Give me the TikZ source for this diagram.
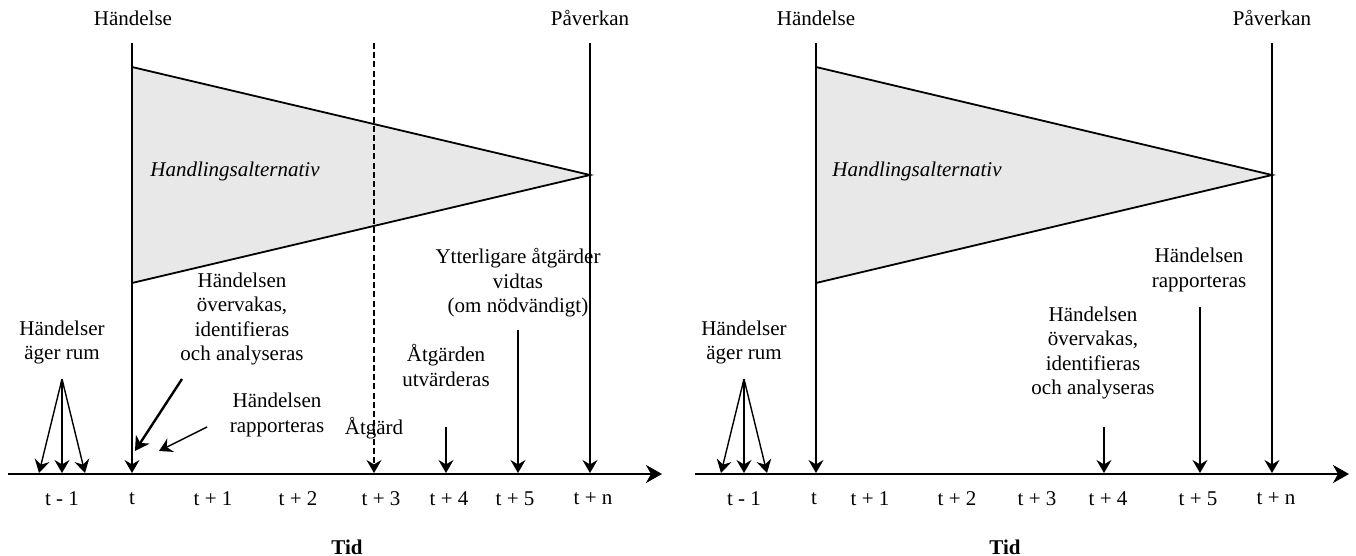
\documentclass[tikz,border=0pt]{standalone}
\usepackage{fontspec}
\setmainfont{Liberation Serif}
\usetikzlibrary{arrows.meta}
\begin{document}
\begin{tikzpicture}[x=0.5pt,y=-0.5pt,
  font=\fontsize{10.5}{12.25}\selectfont,
  lbl/.style={align=center, inner sep=0pt},
  timeaxis/.style={line width=1.1pt, -{Stealth[length=8pt,width=9pt,inset=2.5pt]}},
  mark line/.style={line width=0.6pt, -{Stealth[length=6.5pt,width=7.5pt,inset=2.2pt]}},
  pointer/.style={line width=0.7pt, -{Stealth[length=6.5pt,width=7.5pt,inset=2.2pt]}},
  heavy pointer/.style={line width=1.2pt, -{Stealth[length=7pt,width=8pt,inset=2.2pt]}},
  cone/.style={fill=black!9, draw=black, line width=0.9pt, line join=miter},
  ticklbl/.style={inner sep=0pt},
]
\useasboundingbox (0,0) rectangle (1356,556);

% ---------------- left timeline ----------------
\coordinate (Lax0) at (8,474);
\coordinate (Lax1) at (662,474);
\coordinate (LtTop) at (132,43);
\coordinate (LtBot) at (132,473);
\coordinate (LpTop) at (590,43);
\coordinate (LpBot) at (590,473);
\coordinate (LdTop) at (374,43);
\coordinate (LdBot) at (374,473);
\coordinate (LfanA) at (62,379);
\coordinate (Lf1) at (39,473);
\coordinate (Lf2) at (62,473);
\coordinate (Lf3) at (85,473);
\coordinate (Lobs0) at (182,379);
\coordinate (Lobs1) at (135,451);
\coordinate (Lrep0) at (207,427);
\coordinate (Lrep1) at (159,451);
\coordinate (Leval0) at (446,427);
\coordinate (Leval1) at (446,473);
\coordinate (Lmore0) at (518,330);
\coordinate (Lmore1) at (518,473);

\path[cone] (132,67) -- (590,175) -- (132,283) -- cycle;

\draw[timeaxis] (Lax0) -- (Lax1);
\draw[mark line] (LtTop) -- (LtBot);
\draw[mark line] (LpTop) -- (LpBot);
\draw[mark line, dash pattern=on 3pt off 1.6pt] (LdTop) -- (LdBot);

\node[lbl] (LhEvent) at (133,18) {Händelse};
\node[lbl] (LhImpact) at (590,18) {Påverkan};
\node[lbl, anchor=west] (Lalt) at (150,171) {\itshape Handlingsalternativ};

\node[lbl] (Lhappen) at (62,342.5) {Händelser\\äger rum};
\draw[pointer] (LfanA) -- (Lf1);
\draw[pointer] (LfanA) -- (Lf2);
\draw[pointer] (LfanA) -- (Lf3);

\node[lbl] (Lobs) at (242,319) {Händelsen\\övervakas,\\identifieras\\och analyseras};
\draw[heavy pointer] (Lobs0) -- (Lobs1);

\node[lbl] (Lrep) at (277,415) {Händelsen\\rapporteras};
\draw[pointer] (Lrep0) -- (Lrep1);

\node[lbl] (Lact) at (374,428) {Åtgärd};

\node[lbl] (Leval) at (446,365.5) {Åtgärden\\utvärderas};
\draw[mark line] (Leval0) -- (Leval1);

\node[lbl] (Lmore) at (518,283) {Ytterligare åtgärder\\vidtas\\(om nödvändigt)};
\draw[mark line] (Lmore0) -- (Lmore1);

\node[ticklbl] (Lk0) at (62,499) {t - 1};
\node[ticklbl] (Lk1) at (132,499) {t};
\node[ticklbl] (Lk2) at (213,499) {t + 1};
\node[ticklbl] (Lk3) at (298,499) {t + 2};
\node[ticklbl] (Lk4) at (381,499) {t + 3};
\node[ticklbl] (Lk5) at (449,499) {t + 4};
\node[ticklbl] (Lk6) at (515,499) {t + 5};
\node[ticklbl] (Lk7) at (593,499) {t + n};
\node[ticklbl] (Ltid) at (347,547) {\bfseries Tid};

% ---------------- right timeline ----------------
\coordinate (Rax0) at (695,474);
\coordinate (Rax1) at (1349,474);
\coordinate (RtTop) at (816,43);
\coordinate (RtBot) at (816,473);
\coordinate (RpTop) at (1272,43);
\coordinate (RpBot) at (1272,473);
\coordinate (RfanA) at (744,379);
\coordinate (Rf1) at (721,473);
\coordinate (Rf2) at (744,473);
\coordinate (Rf3) at (767,473);
\coordinate (Robs0) at (1104,427);
\coordinate (Robs1) at (1104,473);
\coordinate (Rrep0) at (1200,307);
\coordinate (Rrep1) at (1200,473);

\path[cone] (816,67) -- (1272,175) -- (816,283) -- cycle;

\draw[timeaxis] (Rax0) -- (Rax1);
\draw[mark line] (RtTop) -- (RtBot);
\draw[mark line] (RpTop) -- (RpBot);

\node[lbl] (RhEvent) at (816,18) {Händelse};
\node[lbl] (RhImpact) at (1272,18) {Påverkan};
\node[lbl, anchor=west] (Ralt) at (832,171) {\itshape Handlingsalternativ};

\node[lbl] (Rhappen) at (744,342.5) {Händelser\\äger rum};
\draw[pointer] (RfanA) -- (Rf1);
\draw[pointer] (RfanA) -- (Rf2);
\draw[pointer] (RfanA) -- (Rf3);

\node[lbl] (Robs) at (1093,353) {Händelsen\\övervakas,\\identifieras\\och analyseras};
\draw[mark line] (Robs0) -- (Robs1);

\node[lbl] (Rrep) at (1199,270) {Händelsen\\rapporteras};
\draw[mark line] (Rrep0) -- (Rrep1);

\node[ticklbl] (Rk0) at (744,499) {t - 1};
\node[ticklbl] (Rk1) at (814,499) {t};
\node[ticklbl] (Rk2) at (870,499) {t + 1};
\node[ticklbl] (Rk3) at (957,499) {t + 2};
\node[ticklbl] (Rk4) at (1037,499) {t + 3};
\node[ticklbl] (Rk5) at (1108,499) {t + 4};
\node[ticklbl] (Rk6) at (1198,499) {t + 5};
\node[ticklbl] (Rk7) at (1276,499) {t + n};
\node[ticklbl] (Rtid) at (1005,547) {\bfseries Tid};
\end{tikzpicture}
\end{document}
